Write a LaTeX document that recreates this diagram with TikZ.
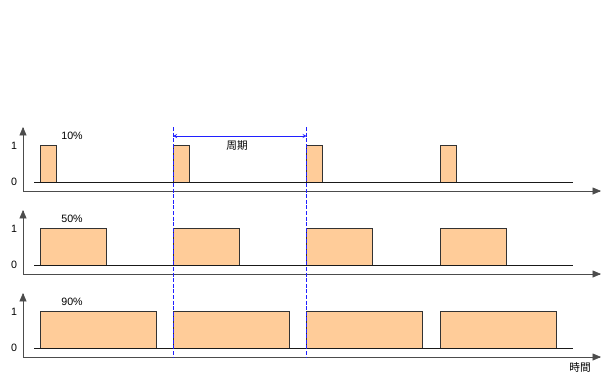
\documentclass[tikz,border=0pt]{standalone}
\usepackage{fontspec}
\setmainfont{Liberation Sans}
\newfontfamily\jpfont{Noto Sans CJK JP}
\usetikzlibrary{arrows}
\definecolor{pulsefill}{HTML}{FFCC99}
\definecolor{cycleblue}{HTML}{2020FF}

\begin{document}
\begin{tikzpicture}[x=0.75pt,y=-0.75pt,>=latex,font=\fontsize{8}{9.6}\selectfont,
        axis/.style={draw=black!70,thin,<->,>=triangle 45},
        pulse/.style={draw=black!80,line width=0.6pt,fill=pulsefill},
        level/.style={draw=black!90,line width=0.6pt},
        period/.style={draw=cycleblue,line width=0.75pt,dash pattern=on 3pt off 1.2pt}]
        \useasboundingbox (0,0) rectangle (601,372);
        \foreach \r/\w/\duty in {0/16/10,1/66/50,2/116/90} {
            \begin{scope}[yshift=-\r*83*0.75pt]
                \draw [axis] (23,127) -- (23,191) -- (601,191);
                \node at (14,146) (one\r) {1};
                \node at (14,182) (zero\r) {0};
                \node at (72,136) (duty\r) {\duty\%};
                \draw [level] (34,182) -- (573,182);
                \foreach \x in {40,173,306.7,440} {
                    \draw [pulse] (\x,182) -- (\x,145) -- (\x+\w,145) -- (\x+\w,182);
                }
            \end{scope}
        }
        \coordinate (p1) at (173,127);
        \coordinate (p2) at (306.7,127);
        \draw [cycleblue,<->,>=stealth] ([yshift=-9*0.75pt]p1) -- ([yshift=-9*0.75pt]p2);
        \draw [period] (p1) -- (173,358) (p2) -- (306.7,358);
        \node at (237,146) (cycle) {\jpfont 周期};
        \node at (580,367) (time) {\jpfont 時間};
\end{tikzpicture}
\end{document}
